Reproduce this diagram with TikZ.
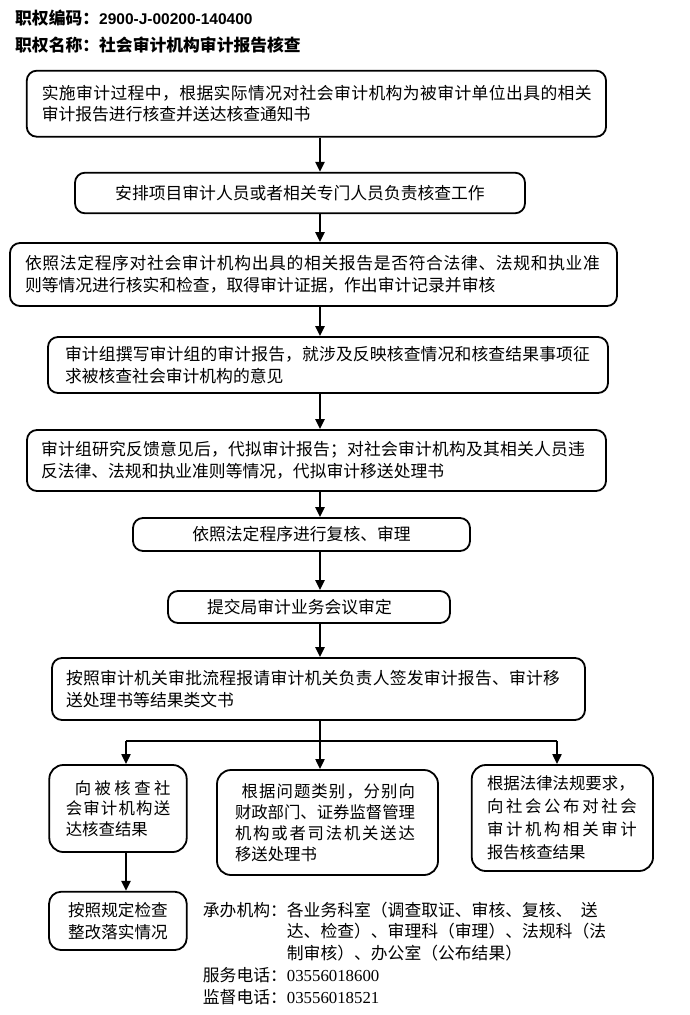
\documentclass[tikz,border=0pt]{standalone}
\usepackage{fontspec}
\setmainfont{Noto Sans CJK SC}
\newfontfamily\numfont{Liberation Serif}
\newfontfamily\hdnum{Liberation Sans}
\usetikzlibrary{arrows.meta}
\def\jlglue{\hskip 0pt plus 1fil minus 4pt\relax}
\def\jlgob#1{}
\def\jl#1#2{\makebox[#1][s]{\jlaux#2\relax}}
\def\jlaux#1{#1\futurelet\jlnext\jlchk}
\def\jlchk{\ifx\jlnext\relax\expandafter\jlgob\else\jlglue\expandafter\jlaux\fi}
\newcommand\bodyf{\fontsize{16.8}{21.5}\selectfont}
\newcommand\smallf{\fontsize{16.4}{21}\selectfont}
\begin{document}
\begin{tikzpicture}[x=1pt,y=-1pt,
  box/.style={draw, line width=1.8pt, rounded corners=10pt, inner ysep=0pt, font=\bodyf},
  sbox/.style={box, rounded corners=14pt, font=\smallf},
  arr/.style={line width=2.6pt, -{Triangle[length=10pt,width=9pt]}},
  brl/.style={line width=2pt},
  brarr/.style={line width=2pt, -{Triangle[length=10pt,width=9pt]}},
  hd/.style={anchor=west, inner sep=0pt, font=\fontsize{16.8}{20}\selectfont\bfseries}]
\useasboundingbox (0,0) rectangle (690,1015);
\fill[white] (0,0) rectangle (690,1015);

\node[hd] (h1) at (15,18.3) {职权编码：{\hdnum\bfseries\fontsize{15.5}{18}\selectfont 2900-J-00200-140400}};
\node[hd] (h2) at (15,45) {职权名称：社会审计机构审计报告核查};

\node[box, minimum width=579.3pt, minimum height=66pt, text width=549.3pt, inner xsep=15pt, align=left] (b1) at (316.4,103.7)
 {\jl{550pt}{实施审计过程中，根据实际情况对社会审计机构为被审计单位出具的相关}\\审计报告进行核查并送达核查通知书};
\node[box, minimum width=450pt, minimum height=40.6pt, align=center] (b2) at (300,193)
 {安排项目审计人员或者相关专门人员负责核查工作};
\node[box, minimum width=607pt, minimum height=63pt, text width=577pt, inner xsep=15pt, align=left] (b3) at (313.5,274.5)
 {\jl{575pt}{依照法定程序对社会审计机构出具的相关报告是否符合法律、法规和执业准}\\则等情况进行核实和检查，取得审计证据，作出审计记录并审核};
\node[box, minimum width=560pt, minimum height=56pt, text width=526pt, inner xsep=17pt, align=left] (b4) at (328,365)
 {\jl{525pt}{审计组撰写审计组的审计报告，就涉及反映核查情况和核查结果事项征}\\求被核查社会审计机构的意见};
\node[box, minimum width=579pt, minimum height=61pt, text width=551pt, inner xsep=14pt, align=left] (b5) at (316.5,460.5)
 {\jl{544pt}{审计组研究反馈意见后，代拟审计报告；对社会审计机构及其相关人员违}\\反法律、法规和执业准则等情况，代拟审计移送处理书};
\node[box, minimum width=337pt, minimum height=33pt, align=center] (b6) at (301.5,534.5)
 {依照法定程序进行复核、审理};
\node[box, minimum width=282pt, minimum height=32pt, text width=204pt, inner xsep=39pt, align=left] (b7) at (309,607)
 {提交局审计业务会议审定};
\node[box, minimum width=533pt, minimum height=62pt, text width=505pt, inner xsep=14pt, align=left] (b8) at (318.5,689)
 {\jl{494pt}{按照审计机关审批流程报请审计机关负责人签发审计报告、审计移}\\送处理书等结果类文书};

\node[sbox, minimum width=137.4pt, minimum height=87pt, text width=104.4pt, inner xsep=16.5pt, align=left,
  font=\fontsize{16.4}{20.5}\selectfont] (b9) at (118,808.5)
 {\hspace*{9pt}\jl{95.7pt}{向被核查社}\\\jl{104.4pt}{会审计机构送}\\达核查结果};
\node[sbox, minimum width=221pt, minimum height=105pt, text width=185pt, inner xsep=18pt, align=left] (b10) at (327.5,822.5)
 {\hspace*{6.7pt}\jl{173.3pt}{根据问题类别，分别向}\\\jl{180pt}{财政部门、证券监督管理}\\\jl{180pt}{机构或者司法机关送达}\\移送处理书};
\node[sbox, minimum width=181.3pt, minimum height=106pt, text width=150.7pt, inner xsep=15.3pt, align=left,
  font=\fontsize{16.4}{23}\selectfont] (b11) at (562.4,818)
 {根据法律法规要求，\\\jl{149.7pt}{向社会公布对社会}\\\jl{149.7pt}{审计机构相关审计}\\报告核查结果};
\node[sbox, rounded corners=12pt, minimum width=137.7pt, minimum height=58.3pt, align=center,
  font=\fontsize{16.6}{22}\selectfont] (b12) at (117.9,920.9)
 {按照规定检查\\整改落实情况};

\node[anchor=north west, inner sep=0pt, align=left, font=\fontsize{16.8}{21.8}\selectfont] (info) at (202.7,901.6)
 {承办机构：各业务科室（调查取证、审核、复核、\hspace{0.5em}送\\
  \hspace*{5em}达、检查）、审理科（审理）、法规科（法\\
  \hspace*{5em}制审核）、办公室（公布结果）\\
  服务电话：{\numfont 03556018600}\\
  监督电话：{\numfont 03556018521}};

\coordinate (xm) at (320,0);
\coordinate (xl) at (126,0);
\coordinate (xr) at (557,0);
\coordinate (j) at (320,741);

\draw[arr] (b1.south -| xm) -- (b2.north -| xm);
\draw[arr] (b2.south -| xm) -- (b3.north -| xm);
\draw[arr] (b3.south -| xm) -- (b4.north -| xm);
\draw[arr] (b4.south -| xm) -- (b5.north -| xm);
\draw[arr] (b5.south -| xm) -- (b6.north -| xm);
\draw[arr] (b6.south -| xm) -- (b7.north -| xm);
\draw[arr] (b7.south -| xm) -- (b8.north -| xm);
\draw[brl] (b8.south -| xm) -- (j);
\draw[brl] (xl |- j) -- (xr |- j);
\draw[brarr] (xl |- j) -- (xl |- b9.north);
\draw[brarr] (j) -- (xm |- b10.north);
\draw[brarr] (xr |- j) -- (xr |- b11.north);
\draw[arr] (xl |- b9.south) -- (xl |- b12.north);
\end{tikzpicture}
\end{document}
